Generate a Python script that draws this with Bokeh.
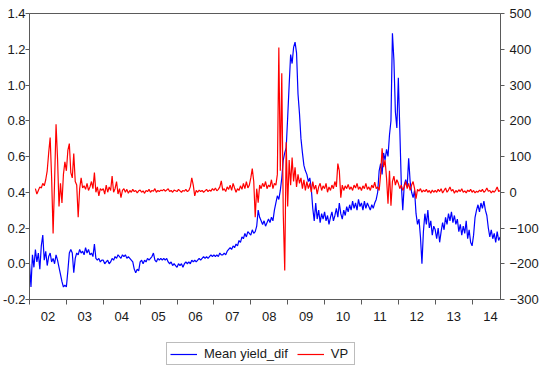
import numpy as np
from bokeh.plotting import figure
from bokeh.layouts import column
from bokeh.models import (Range1d, LinearAxis, FixedTicker, PrintfTickFormatter,
                          Legend, LegendItem)
from bokeh.embed import file_html
from bokeh.resources import INLINE

start_year = 2002.0
step = 0.04
vp_start_index = 4

mean_yield_dif = [
    # 2002
    0.00, -0.13, 0.05, -0.02, 0.08, 0.01, 0.06, -0.03, 0.10, 0.16, 0.02, 0.07, -0.01,
    0.04, 0.06, 0.01, 0.03, 0.00, 0.05, 0.02, -0.02, -0.06, -0.10, -0.13, -0.12,
    # 2003
    -0.13, -0.04, 0.06, 0.08, 0.06, -0.05, 0.03, 0.06, 0.05, 0.08, 0.06, 0.07, 0.05,
    0.09, 0.06, 0.08, 0.05, 0.06, 0.04, 0.11, 0.03, 0.02, 0.03, 0.01, 0.02,
    # 2004
    0.02, 0.00, 0.01, 0.02, 0.00, 0.01, 0.03, 0.02, 0.04, 0.03, 0.05, 0.04, 0.03,
    0.05, 0.04, 0.05, 0.03, 0.04, 0.03, 0.02, 0.01, -0.03, -0.05, -0.03, -0.04,
    # 2005
    0.01, 0.02, 0.00, 0.02, 0.01, 0.03, 0.02, 0.03, 0.04, 0.06, 0.02, 0.01, 0.03,
    0.02, 0.03, 0.02, 0.03, 0.02, 0.03, 0.01, 0.00, 0.01, -0.01, 0.00, -0.01,
    # 2006
    -0.02, 0.00, -0.01, 0.00, -0.02, 0.00, 0.01, 0.00, 0.01, 0.00, 0.02, 0.01, 0.02,
    0.01, 0.02, 0.03, 0.02, 0.03, 0.04, 0.03, 0.04, 0.03, 0.04, 0.05, 0.04,
    # 2007
    0.05, 0.04, 0.05, 0.04, 0.06, 0.05, 0.05, 0.06, 0.05, 0.07, 0.08, 0.09, 0.08,
    0.10, 0.09, 0.11, 0.10, 0.13, 0.12, 0.15, 0.14, 0.17, 0.15, 0.18, 0.17,
    # 2008
    0.16, 0.19, 0.17, 0.18, 0.21, 0.30, 0.26, 0.24, 0.22, 0.24, 0.21, 0.23, 0.25,
    0.23, 0.26, 0.24, 0.30, 0.34, 0.38, 0.36, 0.41, 0.48, 0.58, 0.62, 0.65,
    # 2009
    0.82, 1.00, 1.17, 1.12, 1.21, 1.24, 1.18, 0.95, 0.84, 0.70, 0.62, 0.55, 0.52,
    0.50, 0.46, 0.48, 0.42, 0.31, 0.24, 0.34, 0.25, 0.30, 0.23, 0.28, 0.25,
    # 2010
    0.29, 0.24, 0.27, 0.22, 0.26, 0.29, 0.24, 0.27, 0.31, 0.26, 0.34, 0.28, 0.25,
    0.30, 0.27, 0.32, 0.29, 0.33, 0.30, 0.35, 0.31, 0.34, 0.30, 0.36, 0.32,
    # 2011
    0.34, 0.30, 0.35, 0.31, 0.34, 0.32, 0.30, 0.33, 0.31, 0.34, 0.36, 0.40, 0.52,
    0.56, 0.50, 0.62, 0.58, 0.64, 0.60, 0.72, 0.80, 1.29, 1.14, 0.85, 0.76,
    # 2012
    1.04, 0.75, 0.45, 0.30, 0.44, 0.47, 0.43, 0.59, 0.46, 0.40, 0.37, 0.41, 0.28,
    0.22, 0.25, 0.15, 0.00, 0.18, 0.28, 0.22, 0.30, 0.20, 0.24, 0.16, 0.21,
    # 2013
    0.19, 0.14, 0.20, 0.12, 0.18, 0.23, 0.19, 0.26, 0.22, 0.28, 0.24, 0.29, 0.23,
    0.27, 0.22, 0.25, 0.18, 0.22, 0.16, 0.21, 0.17, 0.24, 0.14, 0.19, 0.12,
    # 2014
    0.10, 0.16, 0.26, 0.30, 0.33, 0.29, 0.34, 0.31, 0.35, 0.30, 0.27, 0.20, 0.15,
    0.19, 0.14, 0.17, 0.12, 0.18, 0.13, 0.15,
]

vp = [
    # 2002 (from index 4)
    10, -5, 5, 15, 12, 25, 18, 35, 60, 110, 153, 40, -115, 30, 190, 95, -40, 25, -30, 50, 85,
    # 2003
    60, 117, 136, 55, 40, 108, 30, 20, -70, 10, 40, 12, 18, 8, 25, 5, 15, 30, 10, 55, 0, 15, -10, 10, 5,
    # 2004
    10, -5, 20, 0, 15, 5, 45, 0, 10, 30, -5, 10, -15, 5, 10, 0, 8, -3, 5, 0, 8, 2, 5, -2, 4,
    # 2005
    6, 0, 4, -3, 5, 2, 8, 0, 5, 3, 10, 0, 5, 2, 6, 4, 8, 3, 6, 10, 2, 5, 0, 6, 4,
    # 2006
    2, 8, 4, 0, 5, 3, 8, 2, 5, 15, 40, 20, -10, 5, 0, 6, 2, 5, 0, 4, 8, 2, 6, 3, 10,
    # 2007
    5, 12, 4, 8, 15, 32, 5, 10, 2, 15, 8, 20, 5, 25, 12, 0, 10, 5, 18, 8, 25, 10, 30, 12, 20,
    # 2008
    40, 66, 30, -70, 10, -29, 20, 10, 25, 15, 30, 10, 20, 15, 35, 10, 25, 20, 50, 405, 60, 333, -60, -219, 140,
    # 2009
    -40, 90, 20, 97, 30, 70, 15, 50, 25, 40, 10, 35, 5, 30, 10, 25, 0, 30, 8, 20, -5, 15, 25, 5, 18,
    # 2010
    10, 25, 0, 15, 5, 20, 10, 30, 15, 80, 60, -15, 20, 5, 18, 10, 22, 8, 15, 5, 20, 12, 25, 8, 15,
    # 2011
    5, 18, 10, 25, 8, 15, 5, 20, 12, 28, 10, 15, 5, 50, 123, 70, 90, 40, -32, 60, -38, 30, 45, 20, 35,
    # 2012
    25, 10, 20, 5, 15, 30, 10, 25, 5, 20, 30, 10, -18, 8, 3, 10, 0, 6, 2, 8, 0, 5, -3, 6, 0,
    # 2013
    5, 0, 8, 2, 10, -2, 5, 12, 0, 6, 15, 3, 8, -3, 5, 0, 7, 2, 10, 0, 4, -2, 6, 2, 8,
    # 2014
    0, 5, -2, 3, 0, 6, 2, 8, 0, 4, 12, 3, 5, -2, 4, 0, 6, 15, 2, 5,
]

series_names = ["Mean yield_dif", "VP"]
series_colors = ["#0000FF", "#FF0000"]
year_starts = list(range(2002, 2015))
year_labels = ["02", "03", "04", "05", "06", "07", "08", "09", "10", "11", "12", "13", "14"]
left_ticks = [-0.2, 0.0, 0.2, 0.4, 0.6, 0.8, 1.0, 1.2, 1.4]
right_ticks = [-300, -200, -100, 0, 100, 200, 300, 400, 500]

dates_blue = start_year + np.arange(len(mean_yield_dif)) * step
dates_vp = start_year + (vp_start_index + np.arange(len(vp))) * step

FONT = "Liberation Sans"
AX = "#5a5a5a"
TXT = "#1a1a1a"

# ---------------- main chart ----------------
p = figure(width=541, height=336, output_backend="svg", toolbar_location=None,
           x_range=Range1d(2002.0, 2014.77), y_range=Range1d(-0.2, 1.4),
           min_border_left=27, min_border_right=39, min_border_top=13,
           min_border_bottom=37)
p.extra_y_ranges = {"vp": Range1d(-300, 500)}
p.xgrid.visible = False
p.ygrid.visible = False
p.outline_line_color = AX
p.background_fill_color = "white"
p.border_fill_color = "white"

p.line(dates_blue, mean_yield_dif, line_color=series_colors[0], line_width=1.2)
p.line(dates_vp, vp, line_color=series_colors[1], line_width=1.2, y_range_name="vp")

# x axis: labels at mid-year, tick marks at year boundaries
xa = p.xaxis[0]
xa.ticker = FixedTicker(ticks=[y + 0.5 for y in year_starts], minor_ticks=year_starts)
xa.major_label_overrides = {y + 0.5: lab for y, lab in zip(year_starts, year_labels)}
xa.major_tick_line_color = None
xa.minor_tick_line_color = AX
xa.minor_tick_out = 5
xa.minor_tick_in = 0
xa.axis_line_color = AX
xa.major_label_standoff = 6
xa.major_label_text_font = FONT
xa.major_label_text_font_size = "13px"
xa.major_label_text_color = TXT

ya = p.yaxis[0]
ya.ticker = FixedTicker(ticks=left_ticks, minor_ticks=[])
ya.formatter = PrintfTickFormatter(format="%.1f")
ya.major_tick_out = 4
ya.major_tick_in = 0
ya.major_tick_line_color = AX
ya.axis_line_color = AX
ya.major_label_standoff = 0
ya.major_label_text_font = FONT
ya.major_label_text_font_size = "13px"
ya.major_label_text_color = TXT

ra = LinearAxis(y_range_name="vp", ticker=FixedTicker(ticks=right_ticks, minor_ticks=[]))
ra.major_tick_out = 4
ra.major_tick_in = 0
ra.major_tick_line_color = AX
ra.axis_line_color = AX
ra.major_label_standoff = 5
ra.major_label_text_font = FONT
ra.major_label_text_font_size = "13px"
ra.major_label_text_color = TXT
p.add_layout(ra, "right")

# ---------------- legend strip ----------------
lg = figure(width=541, height=30, output_backend="svg", toolbar_location=None,
            x_axis_type=None, y_axis_type=None,
            x_range=Range1d(0, 1), y_range=Range1d(0, 1),
            min_border_left=0, min_border_right=0, min_border_top=0, min_border_bottom=0)
lg.outline_line_color = None
lg.xgrid.visible = False
lg.ygrid.visible = False
lg.border_fill_color = "white"
# proxy renderers: the series data lie outside this strip's ranges, so only
# their legend swatches are visible
r_b = lg.line(dates_blue[:3], mean_yield_dif[:3], line_color=series_colors[0], line_width=1.2)
r_r = lg.line(dates_vp[:3], vp[:3], line_color=series_colors[1], line_width=1.2)

legend = Legend(items=[LegendItem(label=series_names[0], renderers=[r_b]),
                       LegendItem(label=series_names[1], renderers=[r_r])],
                orientation="horizontal", location=(137, 1))
legend.border_line_color = "#7a7a7a"
legend.border_line_width = 1
legend.background_fill_alpha = 1.0
legend.label_text_font = FONT
legend.label_text_font_size = "13px"
legend.label_text_color = TXT
legend.glyph_width = 27
legend.glyph_height = 14
legend.label_height = 14
legend.label_standoff = 7
legend.spacing = 9
legend.padding = 3
legend.margin = 0
lg.add_layout(legend)

layout = column(p, lg, spacing=0)
open("out.html", "w").write(file_html(layout, INLINE))
